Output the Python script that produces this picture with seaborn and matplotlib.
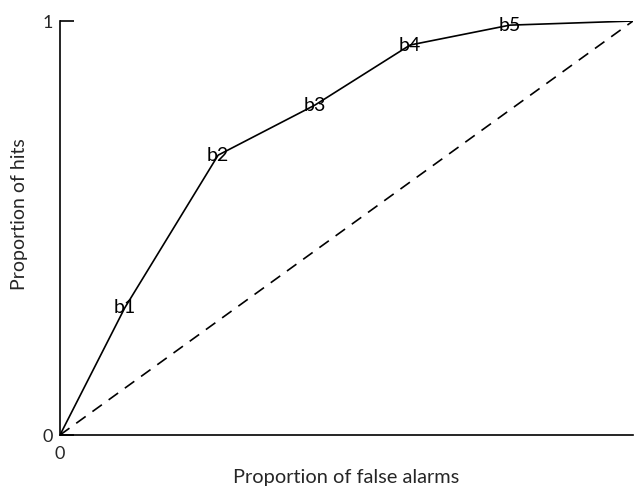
import matplotlib
matplotlib.use("Agg")
import matplotlib.pyplot as plt
import seaborn as sns
import pandas as pd

# Data
criteria = ["", "b1", "b2", "b3", "b4", "b5", ""]
false_alarms = [0.0, 0.113, 0.276, 0.445, 0.611, 0.785, 1.0]
hits = [0.0, 0.307, 0.676, 0.797, 0.942, 0.990, 1.0]
chance_x = [0.0, 1.0]
chance_y = [0.0, 1.0]
tick_vals = [0, 1]
tick_labels = ["0", "1"]

sns.set_style("white")
plt.rcParams['font.family'] = ['Lato', 'DejaVu Sans']

roc = pd.DataFrame({"fa": false_alarms, "hits": hits, "crit": criteria})
chance = pd.DataFrame({"x": chance_x, "y": chance_y})

fig = plt.figure(figsize=(6.35, 4.86), dpi=100)
ax = fig.add_axes([60/635, 1 - 435/486, 573/635, 414/486])

sns.lineplot(data=roc, x="fa", y="hits", ax=ax, color="black", linewidth=1.2,
             sort=False, estimator=None)
sns.lineplot(data=chance, x="x", y="y", ax=ax, color="black", linewidth=1.2,
             linestyle=(0, (7, 5)), estimator=None)

for x, y, c in zip(false_alarms, hits, criteria):
    if c:
        ax.text(x, y, c, ha="center", va="center", fontsize=14, color="black")

ax.set_xlim(0, 1)
ax.set_ylim(0, 1)
ax.set_xticks([0])
ax.set_xticklabels(["0"])
ax.set_yticks(tick_vals)
ax.set_yticklabels(tick_labels)
ax.tick_params(axis="y", left=True, direction="in", length=10, width=1.2,
               color="black", pad=5, labelsize=13)
ax.tick_params(axis="x", bottom=True, direction="in", length=0, pad=8, labelsize=13)

for s in ["top", "right"]:
    ax.spines[s].set_visible(False)
for s in ["left", "bottom"]:
    ax.spines[s].set_color("black")
    ax.spines[s].set_linewidth(1.2)

ax.set_xlabel("Proportion of false alarms", fontsize=14.4)
ax.set_ylabel("Proportion of hits", fontsize=14)
ax.xaxis.set_label_coords(0.5, -0.083)
ax.yaxis.set_label_coords(-0.07, 0.534)
ax.yaxis.label.set_va("center")

fig.savefig("out.png", dpi=100)
